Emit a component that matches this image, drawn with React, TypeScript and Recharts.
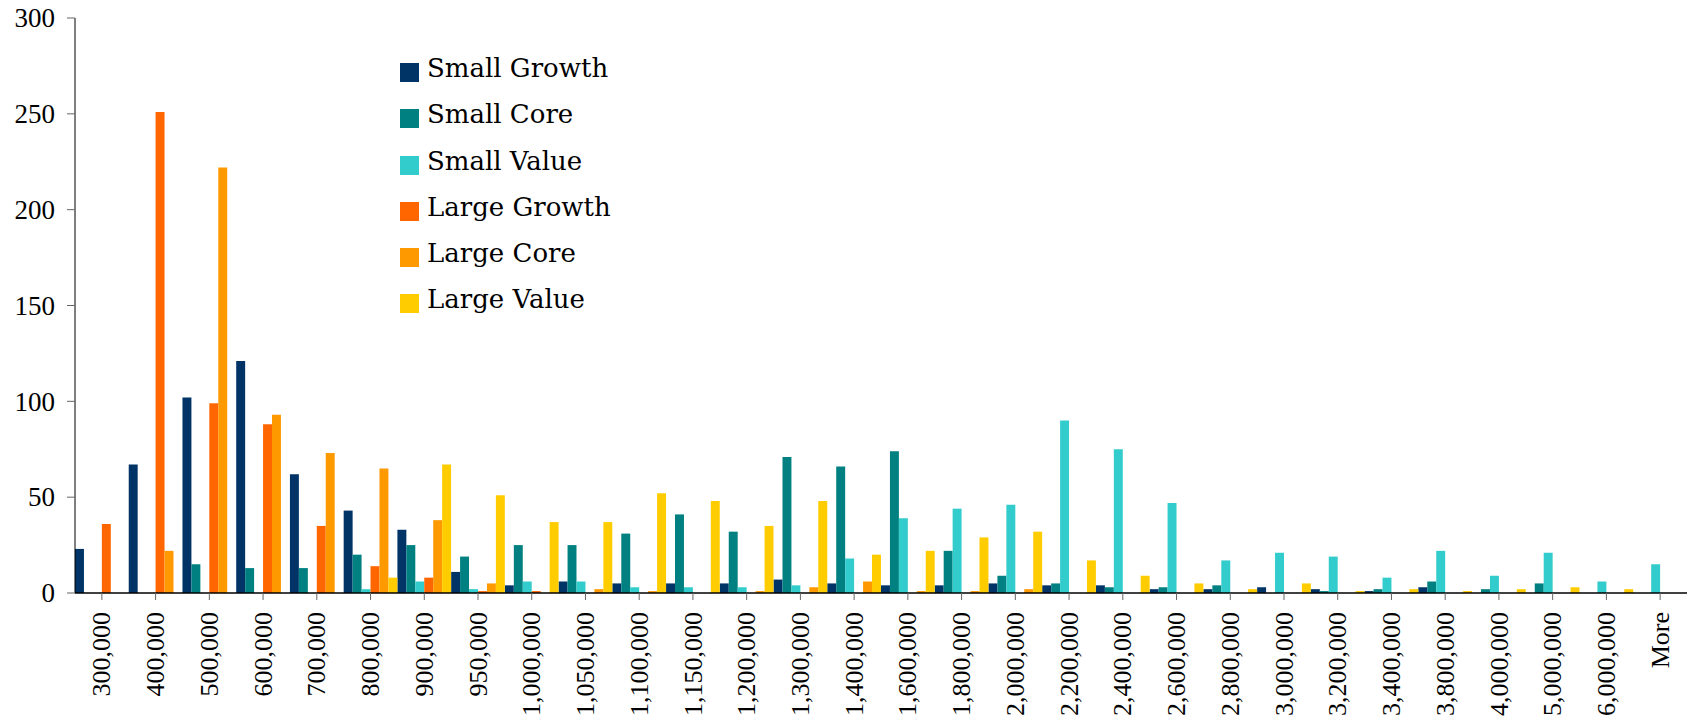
import { BarChart, Bar, XAxis, YAxis, Legend } from 'recharts';

const categories = [
    '300,000', '400,000', '500,000', '600,000', '700,000', '800,000', '900,000', '950,000',
    '1,000,000', '1,050,000', '1,100,000', '1,150,000', '1,200,000', '1,300,000', '1,400,000',
    '1,600,000', '1,800,000', '2,000,000', '2,200,000', '2,400,000', '2,600,000', '2,800,000',
    '3,000,000', '3,200,000', '3,400,000', '3,800,000', '4,000,000', '5,000,000', '6,000,000', 'More',
];

const smallGrowth = [23, 67, 102, 121, 62, 43, 33, 11, 4, 6, 5, 5, 5, 7, 5, 4, 4, 5, 4, 4, 2, 2, 3, 2, 1, 3, 0, 0, 0, 0];
const smallCore = [0, 0, 15, 13, 13, 20, 25, 19, 25, 25, 31, 41, 32, 71, 66, 74, 22, 9, 5, 3, 3, 4, 0, 1, 2, 6, 2, 5, 0, 0];
const smallValue = [0, 0, 0, 0, 0, 2, 6, 2, 6, 6, 3, 3, 3, 4, 18, 39, 44, 46, 90, 75, 47, 17, 21, 19, 8, 22, 9, 21, 6, 15];
const largeGrowth = [36, 251, 99, 88, 35, 14, 8, 1, 1, 0, 0, 0, 0, 0, 0, 0, 0, 0, 0, 0, 0, 0, 0, 0, 0, 0, 0, 0, 0, 0];
const largeCore = [0, 22, 222, 93, 73, 65, 38, 5, 0, 2, 1, 0, 1, 3, 6, 1, 1, 2, 0, 0, 0, 0, 0, 0, 0, 0, 0, 0, 0, 0];
const largeValue = [0, 0, 0, 0, 0, 8, 67, 51, 37, 37, 52, 48, 35, 48, 20, 22, 29, 32, 17, 9, 5, 2, 5, 1, 2, 1, 2, 3, 2, 0];

const yTicks = [0, 50, 100, 150, 200, 250, 300];

const series = [
    { key: 'sg', name: 'Small Growth', color: '#003366' },
    { key: 'sc', name: 'Small Core', color: '#008080' },
    { key: 'sv', name: 'Small Value', color: '#33CCCC' },
    { key: 'lg', name: 'Large Growth', color: '#FF6600' },
    { key: 'lc', name: 'Large Core', color: '#FF9900' },
    { key: 'lv', name: 'Large Value', color: '#FFCC00' },
];

const data = categories.map((c, i) => ({
    name: c,
    sg: smallGrowth[i],
    sc: smallCore[i],
    sv: smallValue[i],
    lg: largeGrowth[i],
    lc: largeCore[i],
    lv: largeValue[i],
}));

const tickFont = '"Liberation Serif", serif';
const legendFont = '"DejaVu Serif", serif';

// rotated category labels, reading bottom to top
function XTick({ x, y, payload }: any) {
    return (
        <text
            x={x}
            y={y}
            transform={`rotate(-90 ${x} ${y})`}
            textAnchor="end"
            dy="0.33em"
            style={{ fontFamily: tickFont, fontSize: '26px' }}
            fill="#000"
        >
            {payload.value}
        </text>
    );
}

function YTick({ x, y, payload }: any) {
    return (
        <text
            x={x}
            y={y}
            textAnchor="end"
            dy="0.34em"
            style={{ fontFamily: tickFont, fontSize: '27px' }}
            fill="#000"
        >
            {payload.value}
        </text>
    );
}

function LegendBox() {
    return (
        <div>
            {series.map((s) => (
                <div key={s.key} style={{ position: 'relative', height: 46.3, width: 200 }}>
                    <div
                        style={{
                            position: 'absolute',
                            left: 0,
                            top: 14,
                            width: 19,
                            height: 19,
                            background: s.color,
                        }}
                    />
                    <div
                        style={{
                            position: 'absolute',
                            left: 27,
                            top: -4,
                            lineHeight: '46.3px',
                            fontFamily: legendFont,
                            fontSize: 26,
                            color: '#000',
                            whiteSpace: 'nowrap',
                        }}
                    >
                        {s.name}
                    </div>
                </div>
            ))}
        </div>
    );
}

export default function App() {
    return (
        <div style={{ position: 'absolute', left: 0, top: 0, width: 1692, height: 721, background: '#fff' }}>
            <BarChart
                width={1692}
                height={721}
                data={data}
                margin={{ top: 18, right: 5, bottom: 0, left: 0 }}
                barCategoryGap={0}
                barGap={0}
            >
                <XAxis
                    dataKey="name"
                    interval={0}
                    height={128}
                    tick={<XTick />}
                    tickSize={7}
                    tickMargin={12}
                    axisLine={{ stroke: '#000', strokeWidth: 1.5 }}
                    tickLine={{ stroke: '#666' }}
                />
                <YAxis
                    domain={[0, 300]}
                    ticks={yTicks}
                    width={75}
                    tickSize={8}
                    tickMargin={12}
                    tick={<YTick />}
                    axisLine={{ stroke: '#000' }}
                    tickLine={{ stroke: '#666' }}
                />
                <Legend
                    layout="vertical"
                    align="center"
                    verticalAlign="middle"
                    content={<LegendBox />}
                    wrapperStyle={{ left: 400, top: 49, width: 220, height: 280 }}
                />
                {series.map((s) => (
                    <Bar
                        key={s.key}
                        dataKey={s.key}
                        name={s.name}
                        fill={s.color}
                        barSize={8.95}
                        isAnimationActive={false}
                    />
                ))}
            </BarChart>
        </div>
    );
}
